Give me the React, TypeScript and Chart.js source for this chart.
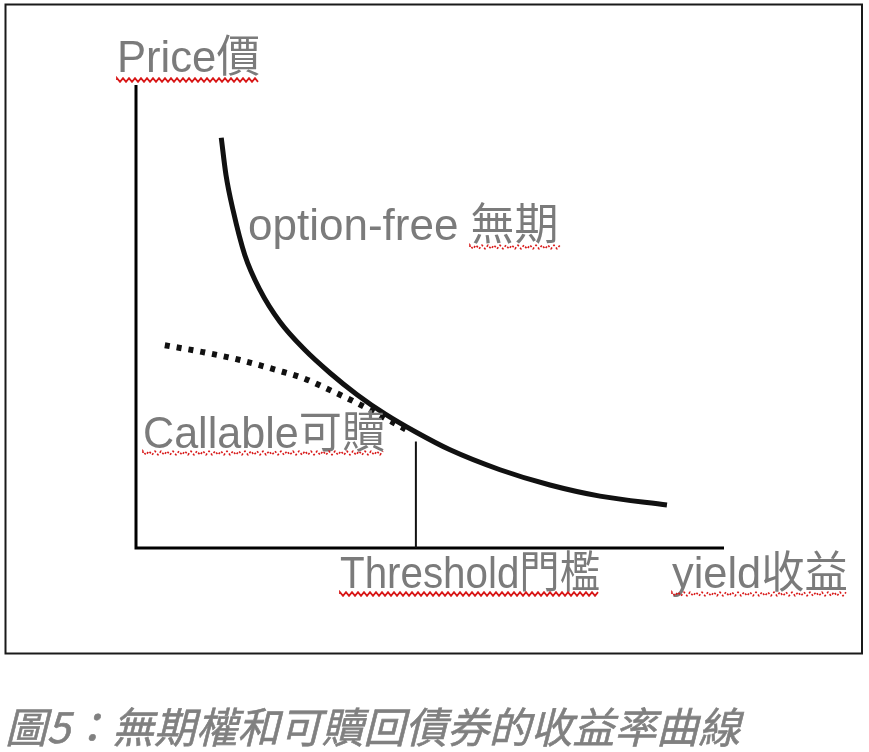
import React, { useEffect, useRef } from "react";
import { Chart, registerables } from "chart.js";

Chart.register(...registerables);

// Option-free bond price/yield curve (yield 0-100, price 0-100, arbitrary units)
const optionFreeYield = [14.5, 15.3, 16.5, 18.5, 21.1, 24.5, 28.7, 33.0, 37.6, 42.4, 47.5, 53.4, 61.9, 70.4, 78.9, 90.3];
const optionFreePrice = [88.6, 80.6, 73.0, 63.3, 55.7, 48.8, 42.8, 37.8, 33.1, 28.9, 25.1, 21.2, 16.9, 13.6, 11.2, 9.3];

// Callable bond curve
const callableYield = [4.9, 11.4, 17.7, 24.0, 28.4, 33.0, 37.6, 42.0, 46.6];
const callablePrice = [43.8, 42.3, 40.6, 38.4, 36.7, 34.1, 31.3, 28.3, 25.1];

// Threshold marker
const thresholdYield = [47.6, 47.6];
const thresholdPrice = [0, 23.0];

const labelTexts = ["Price價", "option-free 無期", "Callable可贖", "Threshold門檻", "yield收益"];
const captionText = "圖5：無期權和可贖回債券的收益率曲線";

const zip = (xs: number[], ys: number[]) => xs.map((x, i) => ({ x, y: ys[i] }));

export default function App() {
  const ref = useRef<HTMLCanvasElement | null>(null);

  useEffect(() => {
    document.body.style.margin = "0";
    const canvas = ref.current;
    if (!canvas) return;

    const LABEL_FONT = '44px "Liberation Sans", "Noto Sans CJK TC", Arial, sans-serif';
    const LABEL_COLOR = "#7b7b7b";

    const wavy = (ctx: CanvasRenderingContext2D, x0: number, x1: number, y: number, dotted: boolean) => {
      ctx.save();
      ctx.strokeStyle = "#d81818";
      ctx.lineWidth = dotted ? 1.6 : 1.8;
      ctx.setLineDash(dotted ? [2, 2] : []);
      ctx.beginPath();
      let up = true;
      ctx.moveTo(x0, y);
      for (let x = x0; x <= x1; x += 3) {
        ctx.lineTo(x, y + (up ? -1.8 : 1.8));
        up = !up;
      }
      ctx.stroke();
      ctx.restore();
    };

    const decor = {
      id: "decor",
      beforeDatasetsDraw(chart: any) {
        const ctx: CanvasRenderingContext2D = chart.ctx;
        const { left, right, top, bottom } = chart.chartArea;
        ctx.save();
        // outer frame
        ctx.strokeStyle = "#1a1a1a";
        ctx.lineWidth = 2;
        ctx.strokeRect(5.5, 4.5, 856.5, 649);
        // axes
        ctx.strokeStyle = "#000";
        ctx.lineWidth = 3;
        ctx.beginPath();
        ctx.moveTo(left, top);
        ctx.lineTo(left, bottom);
        ctx.lineTo(right, bottom);
        ctx.stroke();
        ctx.restore();
      },
      afterDraw(chart: any) {
        const ctx: CanvasRenderingContext2D = chart.ctx;
        ctx.save();
        ctx.fillStyle = LABEL_COLOR;
        ctx.font = LABEL_FONT;
        ctx.textBaseline = "alphabetic";
        ctx.textAlign = "left";
        const places: [number, number, number][] = [
          [117, 72, 143],
          [248, 240, 312],
          [143, 448, 242],
          [340, 588, 260],
          [672, 588, 176],
        ];
        labelTexts.forEach((t, i) => {
          const [x, y, w] = places[i];
          ctx.fillText(t, x, y, w);
        });
        // spell-check underlines
        wavy(ctx, 117, 260, 80, false);
        wavy(ctx, 470, 560, 247, true);
        wavy(ctx, 143, 385, 453, true);
        wavy(ctx, 340, 600, 594, false);
        wavy(ctx, 672, 848, 594, true);
        // caption
        ctx.fillStyle = "#808080";
        ctx.strokeStyle = "#808080";
        ctx.lineWidth = 0.6;
        ctx.font = 'italic 42px "Noto Sans CJK TC", "Liberation Sans", sans-serif';
        ctx.fillText(captionText, 5, 743, 735);
        ctx.strokeText(captionText, 5, 743, 735);
        ctx.restore();
      },
    };

    const chart = new Chart(canvas, {
      type: "line",
      data: {
        datasets: [
          {
            label: "option-free",
            data: zip(optionFreeYield, optionFreePrice),
            borderColor: "#111",
            borderWidth: 5,
            pointRadius: 0,
            cubicInterpolationMode: "monotone",
            borderCapStyle: "butt",
            clip: false,
          } as any,
          {
            label: "callable",
            data: zip(callableYield, callablePrice),
            borderColor: "#111",
            borderWidth: 6,
            borderDash: [5, 7],
            borderCapStyle: "butt",
            pointRadius: 0,
            cubicInterpolationMode: "monotone",
            clip: false,
          } as any,
          {
            label: "threshold",
            data: zip(thresholdYield, thresholdPrice),
            borderColor: "#111",
            borderWidth: 2,
            pointRadius: 0,
            clip: false,
          } as any,
        ],
      },
      options: {
        animation: false,
        responsive: true,
        maintainAspectRatio: false,
        layout: { padding: { left: 136, right: 145, top: 85, bottom: 204 } },
        scales: {
          x: { type: "linear", min: 0, max: 100, display: false },
          y: { type: "linear", min: 0, max: 100, display: false },
        },
        plugins: { legend: { display: false }, tooltip: { enabled: false } },
        events: [],
      },
      plugins: [decor],
    });
    return () => chart.destroy();
  }, []);

  return (
    <div style={{ position: "absolute", left: 0, top: 0, width: 869, height: 752, background: "#fff" }}>
      <canvas ref={ref} />
    </div>
  );
}
